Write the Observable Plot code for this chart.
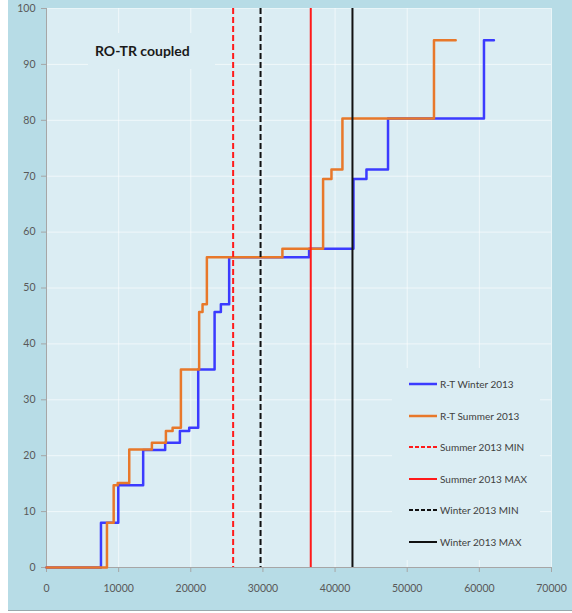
<!DOCTYPE html>
<html>
<head>
<meta charset="utf-8">
<script src="https://cdn.jsdelivr.net/npm/d3@7"></script>
<script src="https://cdn.jsdelivr.net/npm/@observablehq/plot@0.6"></script>
<style>
  body { margin: 0; background: #ffffff; }
  #wrap { position: relative; width: 572px; height: 613px; overflow: hidden; }
  #outer { position: absolute; left: 8px; top: 0; width: 564px; height: 610px; background: #b7dce6; border-bottom: 1px solid #9aa9ad; }
  #chart { position: absolute; left: 0; top: 0; }
  #title { position: absolute; left: 88px; top: 33px; width: 127px; height: 36px; background: #dbedf3;
           font-family: Lato, "Open Sans", sans-serif; font-weight: 700; font-size: 14px; color: #1a1a1a; }
  #title span { position: absolute; left: 7px; top: 9px; white-space: nowrap; }
  #legend { position: absolute; left: 392px; top: 368px; width: 148px; height: 192px; background: #dbedf3; }
  .row { position: absolute; left: 0; height: 14px; font-family: Lato, "Open Sans", sans-serif; font-size: 10px; color: #404040; white-space: nowrap; }
  .row svg { position: absolute; left: 16px; top: 0; }
  .row span { position: absolute; left: 48px; top: 0; line-height: 14px; }
</style>
</head>
<body>
<div id="wrap">
  <div id="outer"></div>
  <div id="chart"></div>
  <div id="title"><span>RO-TR coupled</span></div>
  <div id="legend"></div>
</div>
<script>
// Data
const xTicks = [0, 10000, 20000, 30000, 40000, 50000, 60000, 70000];
const yTicks = [0, 10, 20, 30, 40, 50, 60, 70, 80, 90, 100];

// R-T Winter 2013 (step-after points)
const winterX = [0, 7550, 9950, 13400, 16450, 18490, 19780, 21030, 23300, 24170, 25320, 36400, 42550, 44350, 47340, 60640, 62020];
const winterY = [0, 8, 14.7, 21, 22.3, 24.4, 25, 35.4, 45.7, 47.1, 55.5, 57, 69.5, 71.2, 80.3, 94.3, 94.3];

// R-T Summer 2013 (step-after points)
const summerX = [0, 8380, 9310, 9870, 11470, 14610, 16550, 17480, 18630, 21160, 21630, 22230, 32700, 38340, 39500, 41020, 53710, 56720];
const summerY = [0, 8, 14.7, 15.1, 21.1, 22.3, 24.4, 25, 35.4, 45.7, 47.1, 55.5, 57, 69.5, 71.2, 80.3, 94.3, 94.3];

// Reference lines
const refNames = ["Summer 2013 MIN", "Summer 2013 MAX", "Winter 2013 MIN", "Winter 2013 MAX"];
const refValues = [25870, 36630, 29670, 42410];
const refColors = ["#ff1a1a", "#ff1a1a", "#111111", "#111111"];
const refDashed = [true, false, true, false];

const seriesNames = ["R-T Winter 2013", "R-T Summer 2013"];
const seriesColors = ["#3b3bff", "#e8782a"];

const winter = winterX.map((x, i) => ({x, y: winterY[i]}));
const summer = summerX.map((x, i) => ({x, y: summerY[i]}));

const refMarks = refValues.map((v, i) => Plot.ruleX([v], {
  stroke: refColors[i], strokeWidth: 2,
  strokeDasharray: refDashed[i] ? "6,3" : null
}));

const chart = Plot.plot({
  width: 572,
  height: 613,
  marginLeft: 46,
  marginRight: 21,
  marginTop: 8,
  marginBottom: 46,
  x: {domain: [0, 70000]},
  y: {domain: [0, 100]},
  style: {background: "transparent", fontFamily: "Lato, 'Open Sans', sans-serif", fontSize: "10.5px", color: "#595959"},
  marks: [
    Plot.frame({fill: "#dbedf3", stroke: null}),
    Plot.gridX(xTicks.slice(1), {stroke: "#ffffff", strokeOpacity: 0.6, strokeWidth: 1}),
    Plot.gridY(yTicks.slice(1), {stroke: "#ffffff", strokeOpacity: 0.6, strokeWidth: 1}),
    Plot.ruleY([0], {stroke: "#a6a6a6"}),
    Plot.ruleX([0], {stroke: "#a6a6a6"}),
    Plot.axisX(xTicks, {tickSize: 5, tickPadding: 12, stroke: "#a6a6a6", fill: "#595959", tickFormat: d => String(d), label: null}),
    Plot.axisY(yTicks, {tickSize: 5, tickPadding: 6, stroke: "#a6a6a6", fill: "#595959", label: null}),
    Plot.line(winter, {x: "x", y: "y", curve: "step-after", stroke: seriesColors[0], strokeWidth: 2.5}),
    Plot.line(summer, {x: "x", y: "y", curve: "step-after", stroke: seriesColors[1], strokeWidth: 2.5}),
    ...refMarks
  ]
});
document.getElementById("chart").appendChild(chart);

// Legend
const legend = document.getElementById("legend");
const entries = [
  {name: seriesNames[0], color: seriesColors[0], dash: null, w: 2.5},
  {name: seriesNames[1], color: seriesColors[1], dash: null, w: 2.5},
  ...refNames.map((n, i) => ({name: n, color: refColors[i], dash: refDashed[i] ? "4,2" : null, w: 2}))
];
entries.forEach((e, i) => {
  const row = document.createElement("div");
  row.className = "row";
  row.style.top = (384.3 + 31.5 * i - 368 - 7) + "px";
  row.style.width = "148px";
  row.innerHTML = `<svg width="30" height="14"><line x1="1" x2="29" y1="7" y2="7" stroke="${e.color}" stroke-width="${e.w}" ${e.dash ? `stroke-dasharray="${e.dash}"` : ""}/></svg><span>${e.name}</span>`;
  legend.appendChild(row);
});
</script>
</body>
</html>
